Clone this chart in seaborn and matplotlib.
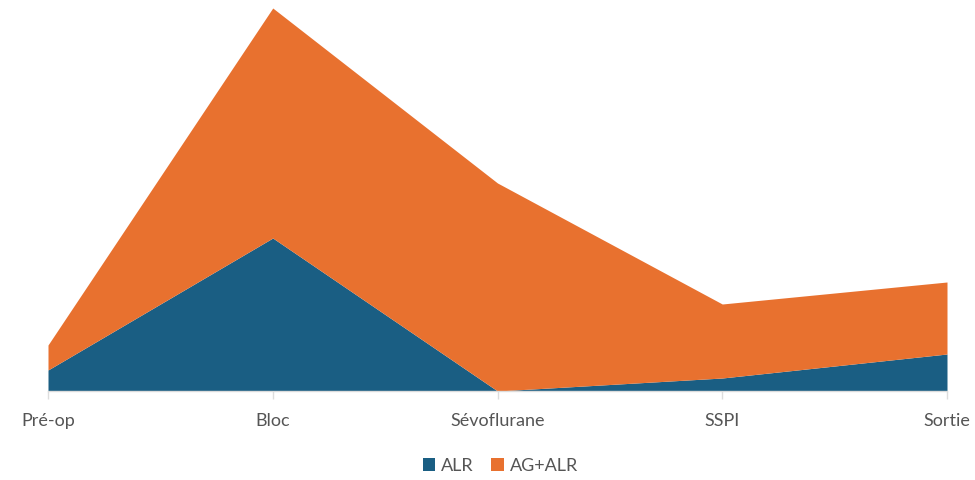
import matplotlib
matplotlib.use("Agg")
import matplotlib.pyplot as plt
from matplotlib.patches import Patch
import seaborn as sns

# Stages of the care pathway
stages = ["Pré-op", "Bloc", "Sévoflurane", "SSPI", "Sortie"]
# Series values per stage
alr = [2.1, 15.3, 0.0, 1.3, 3.7]
ag_alr = [2.5, 23.0, 20.8, 7.4, 7.2]
series_names = ["ALR", "AG+ALR"]

sns.set_theme(style="white")
plt.rcParams["font.family"] = ["Lato", "DejaVu Sans"]

colors = ["#1a5e83", "#e8712f"]

fig = plt.figure(figsize=(9.75, 4.8), dpi=100)
ax = fig.add_axes([48 / 975, 89 / 480, (947 - 48) / 975, (391 - 8) / 480])

x = list(range(len(stages)))
ax.stackplot(x, alr, ag_alr, colors=colors, linewidth=0)

total_max = max(a + b for a, b in zip(alr, ag_alr))
ax.set_xlim(0, len(stages) - 1)
ax.set_ylim(0, total_max)

ax.set_xticks(x)
ax.set_xticklabels(stages, fontsize=13, color="#555555")
ax.set_yticks([])
ax.tick_params(axis="x", length=6, width=1, color="#dddddd", pad=10, bottom=True)

for side in ["top", "right", "left"]:
    ax.spines[side].set_visible(False)
ax.spines["bottom"].set_color("#dcdcdc")
ax.spines["bottom"].set_linewidth(1)

handles = [Patch(facecolor=c, edgecolor="none") for c in colors]
fig.legend(handles, series_names, loc="center", bbox_to_anchor=(0.513, 0.03),
           ncol=2, frameon=False, fontsize=13, handlelength=0.7, handleheight=0.7,
           handletextpad=0.3, columnspacing=1.0, labelcolor="#555555",
           borderpad=0.2)

fig.savefig("out.png", dpi=100)
